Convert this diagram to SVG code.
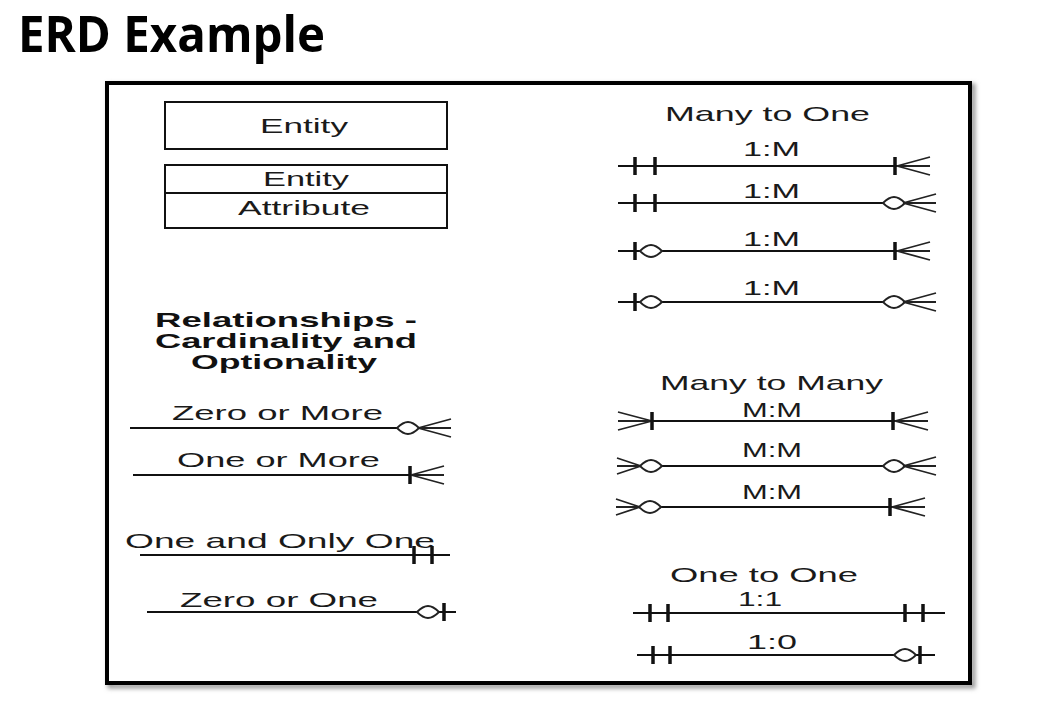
<svg xmlns="http://www.w3.org/2000/svg" width="1048" height="710" viewBox="0 0 1048 710">
<style>
.t{font-family:"Liberation Sans",Arial,sans-serif;font-size:21px;fill:#1a1a1a}
.tb{font-family:"Liberation Sans",Arial,sans-serif;font-size:21px;font-weight:bold;fill:#111}
.title{font-family:"Open Sans","Liberation Sans",sans-serif;font-size:50px;font-weight:bold;fill:#000}
.box{fill:#fff;stroke:#111;stroke-width:2}
.ln{stroke:#111;stroke-width:2;fill:none}
.bar{stroke:#111;stroke-width:3.5}
.crow{stroke:#222;stroke-width:1.8;fill:none}
.circ{fill:#fff;stroke:#222;stroke-width:1.8}
</style>
<defs>
<filter id="sh" x="-5%" y="-5%" width="110%" height="110%"><feGaussianBlur stdDeviation="2"/></filter>
<path id="crowR" class="crow" d="M0,0 L33,-9 M0,0 L33,0 M0,0 L33,9"/>
<path id="crowL" class="crow" d="M0,0 L-34,-9 M0,0 L-34,0 M0,0 L-34,9"/>
<path id="crowLs" class="crow" d="M0,0 L-24,-8 M0,0 L-24,0 M0,0 L-24,8"/>
<line id="bar" class="bar" x1="0" y1="-9" x2="0" y2="9"/>
<path id="circ" class="circ" d="M-11,0 Q-5,-6 0,-6 Q5,-6 11,0 Q5,6 0,6 Q-5,6 -11,0 Z"/>
</defs>
<rect width="1048" height="710" fill="#fff"/>
<text class="title" x="18" y="52" textLength="307" lengthAdjust="spacingAndGlyphs">ERD Example</text>
<g id="frame">
<rect x="110" y="86" width="863" height="600" fill="none" stroke="#999" stroke-width="5" filter="url(#sh)"/>
<rect x="107" y="83" width="863" height="600" fill="#fff" stroke="#000" stroke-width="4"/>
</g>
<g id="entity">
<rect class="box" x="165" y="102" width="282" height="47"/>
<text class="t" x="260" y="133" textLength="88" lengthAdjust="spacingAndGlyphs">Entity</text>
</g>
<g id="entity-attribute">
<rect class="box" x="165" y="165" width="282" height="63"/>
<line class="ln" x1="165" y1="193" x2="447" y2="193" stroke-width="1.5"/>
<text class="t" x="263" y="186" textLength="86" lengthAdjust="spacingAndGlyphs">Entity</text>
<text class="t" x="238" y="215" textLength="132" lengthAdjust="spacingAndGlyphs">Attribute</text>
</g>
<g id="relationships-heading">
<text class="tb" x="155" y="327" textLength="262" lengthAdjust="spacingAndGlyphs">Relationships -</text>
<text class="tb" x="155" y="348" textLength="262" lengthAdjust="spacingAndGlyphs">Cardinality and</text>
<text class="tb" x="191" y="369" textLength="186" lengthAdjust="spacingAndGlyphs">Optionality</text>
</g>
<g id="headings">
<text class="t" x="665" y="121" textLength="205" lengthAdjust="spacingAndGlyphs">Many to One</text>
<text class="t" x="660" y="390" textLength="223" lengthAdjust="spacingAndGlyphs">Many to Many</text>
<text class="t" x="670" y="582" textLength="188" lengthAdjust="spacingAndGlyphs">One to One</text>
</g>
<g id="connectors">
<g id="zero-or-more">
<text class="t" x="172" y="420" textLength="211" lengthAdjust="spacingAndGlyphs">Zero or More</text>
<line class="ln" x1="130" y1="428" x2="418" y2="428"/>
<use href="#circ" x="408" y="428"/>
<use href="#crowR" x="418" y="428"/>
</g>
<g id="one-or-more">
<text class="t" x="177" y="467" textLength="203" lengthAdjust="spacingAndGlyphs">One or More</text>
<line class="ln" x1="133" y1="475" x2="412" y2="475"/>
<use href="#bar" x="410" y="475"/>
<use href="#crowR" x="411" y="475"/>
</g>
<g id="one-and-only-one">
<text class="t" x="125" y="548" textLength="310" lengthAdjust="spacingAndGlyphs">One and Only One</text>
<line class="ln" x1="140" y1="555" x2="450" y2="555"/>
<use href="#bar" x="414" y="555"/>
<use href="#bar" x="432" y="555"/>
</g>
<g id="zero-or-one">
<text class="t" x="180" y="607" textLength="198" lengthAdjust="spacingAndGlyphs">Zero or One</text>
<line class="ln" x1="147" y1="612" x2="456" y2="612"/>
<use href="#circ" x="428" y="612"/>
<use href="#bar" x="444" y="612"/>
</g>
<g id="m1-1">
<text class="t" x="743" y="156" textLength="57" lengthAdjust="spacingAndGlyphs">1:M</text>
<line class="ln" x1="618" y1="166" x2="897" y2="166"/>
<use href="#bar" x="635" y="166"/><use href="#bar" x="655" y="166"/>
<use href="#bar" x="895" y="166"/><use href="#crowR" x="897" y="166"/>
</g>
<g id="m1-2">
<text class="t" x="743" y="198" textLength="57" lengthAdjust="spacingAndGlyphs">1:M</text>
<line class="ln" x1="618" y1="203" x2="903" y2="203"/>
<use href="#bar" x="635" y="203"/><use href="#bar" x="655" y="203"/>
<use href="#circ" x="894" y="203"/><use href="#crowR" x="903" y="203"/>
</g>
<g id="m1-3">
<text class="t" x="743" y="246" textLength="57" lengthAdjust="spacingAndGlyphs">1:M</text>
<line class="ln" x1="618" y1="251" x2="897" y2="251"/>
<use href="#bar" x="635" y="251"/><use href="#circ" x="651" y="251"/>
<use href="#bar" x="895" y="251"/><use href="#crowR" x="897" y="251"/>
</g>
<g id="m1-4">
<text class="t" x="743" y="295" textLength="57" lengthAdjust="spacingAndGlyphs">1:M</text>
<line class="ln" x1="618" y1="302" x2="903" y2="302"/>
<use href="#bar" x="635" y="302"/><use href="#circ" x="651" y="302"/>
<use href="#circ" x="894" y="302"/><use href="#crowR" x="903" y="302"/>
</g>
<g id="mm-1">
<text class="t" x="742" y="417" textLength="60" lengthAdjust="spacingAndGlyphs">M:M</text>
<line class="ln" x1="652" y1="421" x2="895" y2="421"/>
<use href="#crowL" x="652" y="421"/><use href="#bar" x="652" y="421"/>
<use href="#bar" x="893" y="421"/><use href="#crowR" x="895" y="421"/>
</g>
<g id="mm-2">
<text class="t" x="742" y="457" textLength="60" lengthAdjust="spacingAndGlyphs">M:M</text>
<line class="ln" x1="640" y1="466" x2="903" y2="466"/>
<use href="#crowLs" x="641" y="466"/><use href="#circ" x="651" y="466"/>
<use href="#circ" x="894" y="466"/><use href="#crowR" x="903" y="466"/>
</g>
<g id="mm-3">
<text class="t" x="742" y="499" textLength="60" lengthAdjust="spacingAndGlyphs">M:M</text>
<line class="ln" x1="640" y1="507" x2="892" y2="507"/>
<use href="#crowLs" x="640" y="507"/><use href="#circ" x="650" y="507"/>
<use href="#bar" x="890" y="507"/><use href="#crowR" x="892" y="507"/>
</g>
<g id="oo-1">
<text class="t" x="738" y="606" textLength="44" lengthAdjust="spacingAndGlyphs">1:1</text>
<line class="ln" x1="633" y1="613" x2="945" y2="613"/>
<use href="#bar" x="650" y="613"/><use href="#bar" x="668" y="613"/>
<use href="#bar" x="905" y="613"/><use href="#bar" x="923" y="613"/>
</g>
<g id="oo-2">
<text class="t" x="747" y="649" textLength="50" lengthAdjust="spacingAndGlyphs">1:0</text>
<line class="ln" x1="637" y1="655" x2="935" y2="655"/>
<use href="#bar" x="653" y="655"/><use href="#bar" x="670" y="655"/>
<use href="#circ" x="905" y="655"/><use href="#bar" x="920" y="655"/>
</g>
</g>
</svg>
